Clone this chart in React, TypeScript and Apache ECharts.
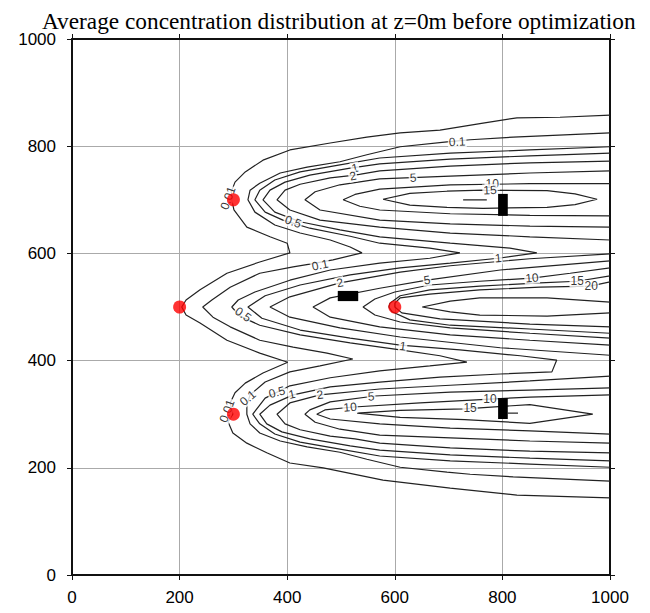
import React, { useEffect, useRef } from "react";
import * as echarts from "echarts";

const TITLE = "Average concentration distribution at z=0m before optimization";
const X_TICKS = { min: 0, max: 1000, interval: 200 };
const Y_TICKS = { min: 0, max: 1000, interval: 200 };

// contour polylines, [x (m), y (m)]
const c001: number[][] = [
  [1000, 858], [907, 854], [827, 853], [764, 843], [684, 830], [610, 825], [548, 817], [480, 806], [405, 793],
  [355, 774], [322, 752], [303, 733], [296, 715], [297, 700], [301, 681], [325, 649], [368, 631], [400, 619],
  [405, 601], [349, 584], [288, 563], [238, 532], [212, 513], [204, 500], [212, 485], [238, 470], [288, 438],
  [349, 414], [401, 397], [355, 377], [322, 358], [303, 340], [294, 321], [299, 300], [290, 286], [299, 265],
  [325, 246], [362, 228], [405, 209], [467, 200], [578, 177], [703, 162], [827, 149], [1000, 144],
];
const c01: number[][] = [
  [1000, 825], [820, 817], [740, 812], [697, 808], [610, 799], [548, 784], [498, 771], [437, 761], [387, 750],
  [349, 731], [331, 718], [327, 700], [340, 677], [377, 653], [424, 638], [480, 625], [517, 612], [539, 601],
  [485, 588], [442, 580], [411, 575], [349, 563], [294, 537], [260, 513], [243, 500], [262, 481], [294, 463],
  [349, 438], [411, 425], [474, 414], [522, 403], [461, 390], [405, 379], [359, 360], [331, 336], [325, 317],
  [325, 300], [331, 282], [349, 265], [387, 250], [437, 239], [498, 229], [548, 216], [610, 201], [697, 192],
  [740, 188], [820, 183], [1000, 175],
];
const c05: number[][] = [
  [1000, 799], [851, 793], [703, 787], [572, 778], [498, 765], [424, 752], [377, 737], [349, 718], [340, 700],
  [359, 677], [392, 662], [442, 647], [517, 632], [572, 619], [665, 610], [721, 601],
  [665, 591], [572, 582], [480, 569], [405, 550], [340, 528], [309, 513], [297, 500], [312, 483], [349, 466],
  [424, 448], [517, 433], [610, 420], [684, 409], [734, 397],
  [665, 390], [572, 381], [480, 368], [405, 353], [359, 330], [336, 300], [349, 282], [377, 263], [424, 248],
  [498, 235], [572, 222], [703, 213], [851, 207], [1000, 201],
];
const c1: number[][] = [
  [1000, 787], [851, 782], [703, 776], [572, 767], [517, 759], [442, 746], [396, 733], [368, 718], [355, 700],
  [377, 677], [424, 659], [498, 644], [572, 631], [703, 619], [814, 610], [864, 601],
  [792, 591], [703, 582], [610, 573], [517, 560], [424, 541], [359, 521], [327, 500], [353, 479], [424, 457],
  [517, 442], [610, 429], [721, 420], [833, 409], [901, 401], [892, 379],
  [796, 375], [684, 369], [572, 360], [480, 351], [411, 336], [368, 317], [349, 300], [362, 282], [390, 267],
  [442, 254], [517, 241], [572, 233], [703, 224], [851, 218], [1000, 213],
];
const c2Top: number[][] = [
  [1000, 772], [851, 769], [703, 763], [572, 754], [526, 746], [480, 741], [424, 729], [396, 718], [381, 700],
  [405, 681], [461, 662], [572, 649], [703, 638], [851, 631], [1000, 625],
];
const c2Mid: number[][] = [
  [1000, 599], [851, 590], [703, 577], [610, 565], [498, 545], [405, 519], [368, 500], [405, 481], [498, 461],
  [610, 444], [796, 424], [1000, 410],
];
const c2Bot: number[][] = [
  [1000, 371], [851, 362], [703, 354], [572, 347], [461, 336], [405, 321], [381, 300], [396, 282], [424, 271],
  [480, 259], [526, 254], [572, 246], [703, 237], [851, 231], [1000, 228],
];
const c5Top: number[][] = [
  [1000, 754], [851, 750], [703, 744], [572, 739], [498, 728], [452, 715], [433, 700], [461, 681], [572, 662],
  [703, 655], [851, 651], [1000, 649],
];
const c5Mid: number[][] = [
  [1000, 586], [796, 569], [660, 550], [572, 535], [480, 517], [448, 500], [480, 481], [572, 463], [703, 448],
  [851, 438], [1000, 429],
];
const c5Bot: number[][] = [
  [1000, 349], [851, 345], [703, 341], [563, 334], [480, 323], [442, 308], [433, 300], [452, 285], [498, 272],
  [572, 261], [703, 256], [851, 250], [1000, 246],
];
const c10Top: number[][] = [
  [1000, 730], [851, 730], [703, 728], [572, 720], [526, 710], [504, 700], [535, 688], [572, 681], [703, 674],
  [851, 671], [1000, 670],
];
const c10Mid: number[][] = [
  [1000, 573], [926, 563], [855, 554], [758, 548], [665, 541], [600, 528], [563, 515], [541, 500], [563, 485],
  [610, 472], [703, 461], [851, 451], [1000, 442],
];
const c10Bot: number[][] = [
  [1000, 336], [851, 332], [777, 328], [647, 321], [517, 313], [470, 308], [455, 300], [480, 291], [572, 282],
  [703, 274], [851, 269], [1000, 263],
];
const c15Top: number[][] = [
  [578, 701], [628, 712], [697, 716], [764, 718], [883, 717], [935, 711], [976, 701], [935, 691], [883, 686],
  [764, 684], [697, 686], [628, 690], [578, 701],
];
const c15Mid: number[][] = [
  [1000, 558], [939, 548], [870, 545], [758, 539], [665, 532], [610, 521], [591, 507], [589, 500], [595, 491],
  [628, 476], [703, 466], [851, 459], [1000, 451],
];
const c15Bot: number[][] = [
  [530, 302], [610, 307], [730, 310], [851, 318], [968, 300], [851, 283], [730, 290], [610, 294], [530, 302],
];
const c20Mid: number[][] = [
  [1000, 547], [963, 539], [870, 537], [758, 532], [665, 524], [610, 517], [600, 507], [600, 500], [613, 489],
  [684, 478], [851, 468], [1000, 463],
];
const c25Mid: number[][] = [
  [1000, 509], [883, 517], [758, 517], [703, 511], [651, 500], [703, 491], [758, 485], [883, 483], [1000, 489],
];
const tailTop: number[][] = [[727, 700], [771, 700]];
const tailBot: number[][] = [[810, 302], [829, 302]];

const contourLines = [
  c001, c01, c05, c1, c2Top, c2Mid, c2Bot, c5Top, c5Mid, c5Bot, c10Top, c10Mid, c10Bot,
  c15Top, c15Mid, c15Bot, c20Mid, c25Mid, tailTop, tailBot,
];

// contour labels: [x, y, text, rotation in degrees]
const contourLabels: [number, number, string, number][] = [
  [290, 703, "0.01", 70],
  [716, 808, "0.1", 3],
  [526, 759, "1", 12],
  [522, 744, "2", 12],
  [634, 741, "5", 3],
  [781, 729, "10", 0],
  [777, 718, "15", 3],
  [411, 659, "0.5", -20],
  [461, 578, "0.1", 12],
  [318, 486, "0.5", -35],
  [498, 545, "2", 12],
  [792, 591, "1", 5],
  [660, 550, "5", 8],
  [855, 554, "10", 5],
  [939, 548, "15", 0],
  [965, 539, "20", 0],
  [615, 427, "1", -8],
  [288, 306, "0.01", 70],
  [327, 330, "0.1", 40],
  [381, 341, "0.5", 15],
  [409, 337, "1", 12],
  [461, 336, "2", 8],
  [556, 333, "5", 3],
  [517, 313, "10", 5],
  [740, 311, "15", 0],
  [777, 328, "10", 0],
];

const sources: number[][] = [[300, 700], [200, 500], [600, 500], [300, 300]];
// buildings: [x1, y1, x2, y2]
const buildings: number[][] = [[792, 670, 810, 711], [494, 511, 532, 530], [792, 291, 810, 330]];

const SANS = "'Liberation Sans', Arial, Helvetica, sans-serif";

export default function App() {
  const ref = useRef<HTMLDivElement>(null);
  useEffect(() => {
    document.body.style.margin = "0";
    const chart = echarts.init(ref.current!, null, { renderer: "svg" });
    const frameAxis = {
      type: "value",
      axisLine: { show: true, onZero: false, lineStyle: { color: "#111", width: 2 } },
      axisTick: { show: true, inside: false, length: 5, lineStyle: { color: "#111", width: 1 } },
    };
    const labelStyle = {
      show: true,
      position: "inside",
      color: "#000",
      fontFamily: SANS,
      fontSize: 12,
      backgroundColor: "#fff",
      padding: [0, 1],
      textBorderWidth: 0,
      textBorderColor: "transparent",
      textShadowBlur: 0,
    };
    const series: any[] = contourLines.map((pts) => ({
      type: "line",
      data: pts,
      showSymbol: false,
      symbol: "none",
      silent: true,
      z: 2,
      lineStyle: { color: "#222", width: 1.2 },
    }));
    series.push({
      type: "scatter",
      silent: true,
      z: 3,
      symbolSize: 1,
      itemStyle: { color: "rgba(255,255,255,0)" },
      data: contourLabels.map(([x, y, t, r]) => ({
        value: [x, y],
        label: { ...labelStyle, formatter: t, rotate: r },
      })),
      label: labelStyle,
    });
    series.push({
      type: "custom",
      silent: true,
      z: 4,
      encode: { x: [0, 2], y: [1, 3] },
      data: buildings,
      renderItem: (params: any, api: any) => {
        const p1 = api.coord([api.value(0), api.value(3)]);
        const p2 = api.coord([api.value(2), api.value(1)]);
        return {
          type: "rect",
          shape: { x: p1[0], y: p1[1], width: p2[0] - p1[0], height: p2[1] - p1[1] },
          style: { fill: "#000" },
        };
      },
    });
    series.push({
      type: "scatter",
      silent: true,
      z: 5,
      symbolSize: 13,
      itemStyle: { color: "#ff0000" },
      data: sources,
    });
    const fmt = (v: number) => String(v);
    chart.setOption({
      animation: false,
      backgroundColor: "#fff",
      title: {
        text: TITLE,
        left: 37,
        top: 4,
        textStyle: { fontFamily: "'Liberation Serif', 'Times New Roman', serif", fontSize: 23.3, fontWeight: "normal", color: "#000" },
      },
      grid: { left: 72, right: 40, top: 39, bottom: 38, containLabel: false },
      xAxis: [
        {
          ...frameAxis,
          ...X_TICKS,
          position: "bottom",
          axisLabel: { show: true, fontFamily: SANS, fontSize: 17, color: "#000", margin: 14, formatter: fmt },
          splitLine: { show: true, lineStyle: { color: "#aaa", width: 1 } },
        },
        {
          ...frameAxis,
          ...X_TICKS,
          position: "top",
          axisLabel: { show: false },
          splitLine: { show: false },
        },
      ],
      yAxis: [
        {
          ...frameAxis,
          ...Y_TICKS,
          position: "left",
          axisLabel: { show: true, fontFamily: SANS, fontSize: 17, color: "#000", margin: 16, formatter: fmt },
          splitLine: { show: true, lineStyle: { color: "#aaa", width: 1 } },
        },
        {
          ...frameAxis,
          ...Y_TICKS,
          position: "right",
          axisLabel: { show: false },
          splitLine: { show: false },
        },
      ],
      series,
    });
    return () => chart.dispose();
  }, []);
  return <div ref={ref} style={{ width: 650, height: 613, position: "absolute", left: 0, top: 0 }} />;
}
